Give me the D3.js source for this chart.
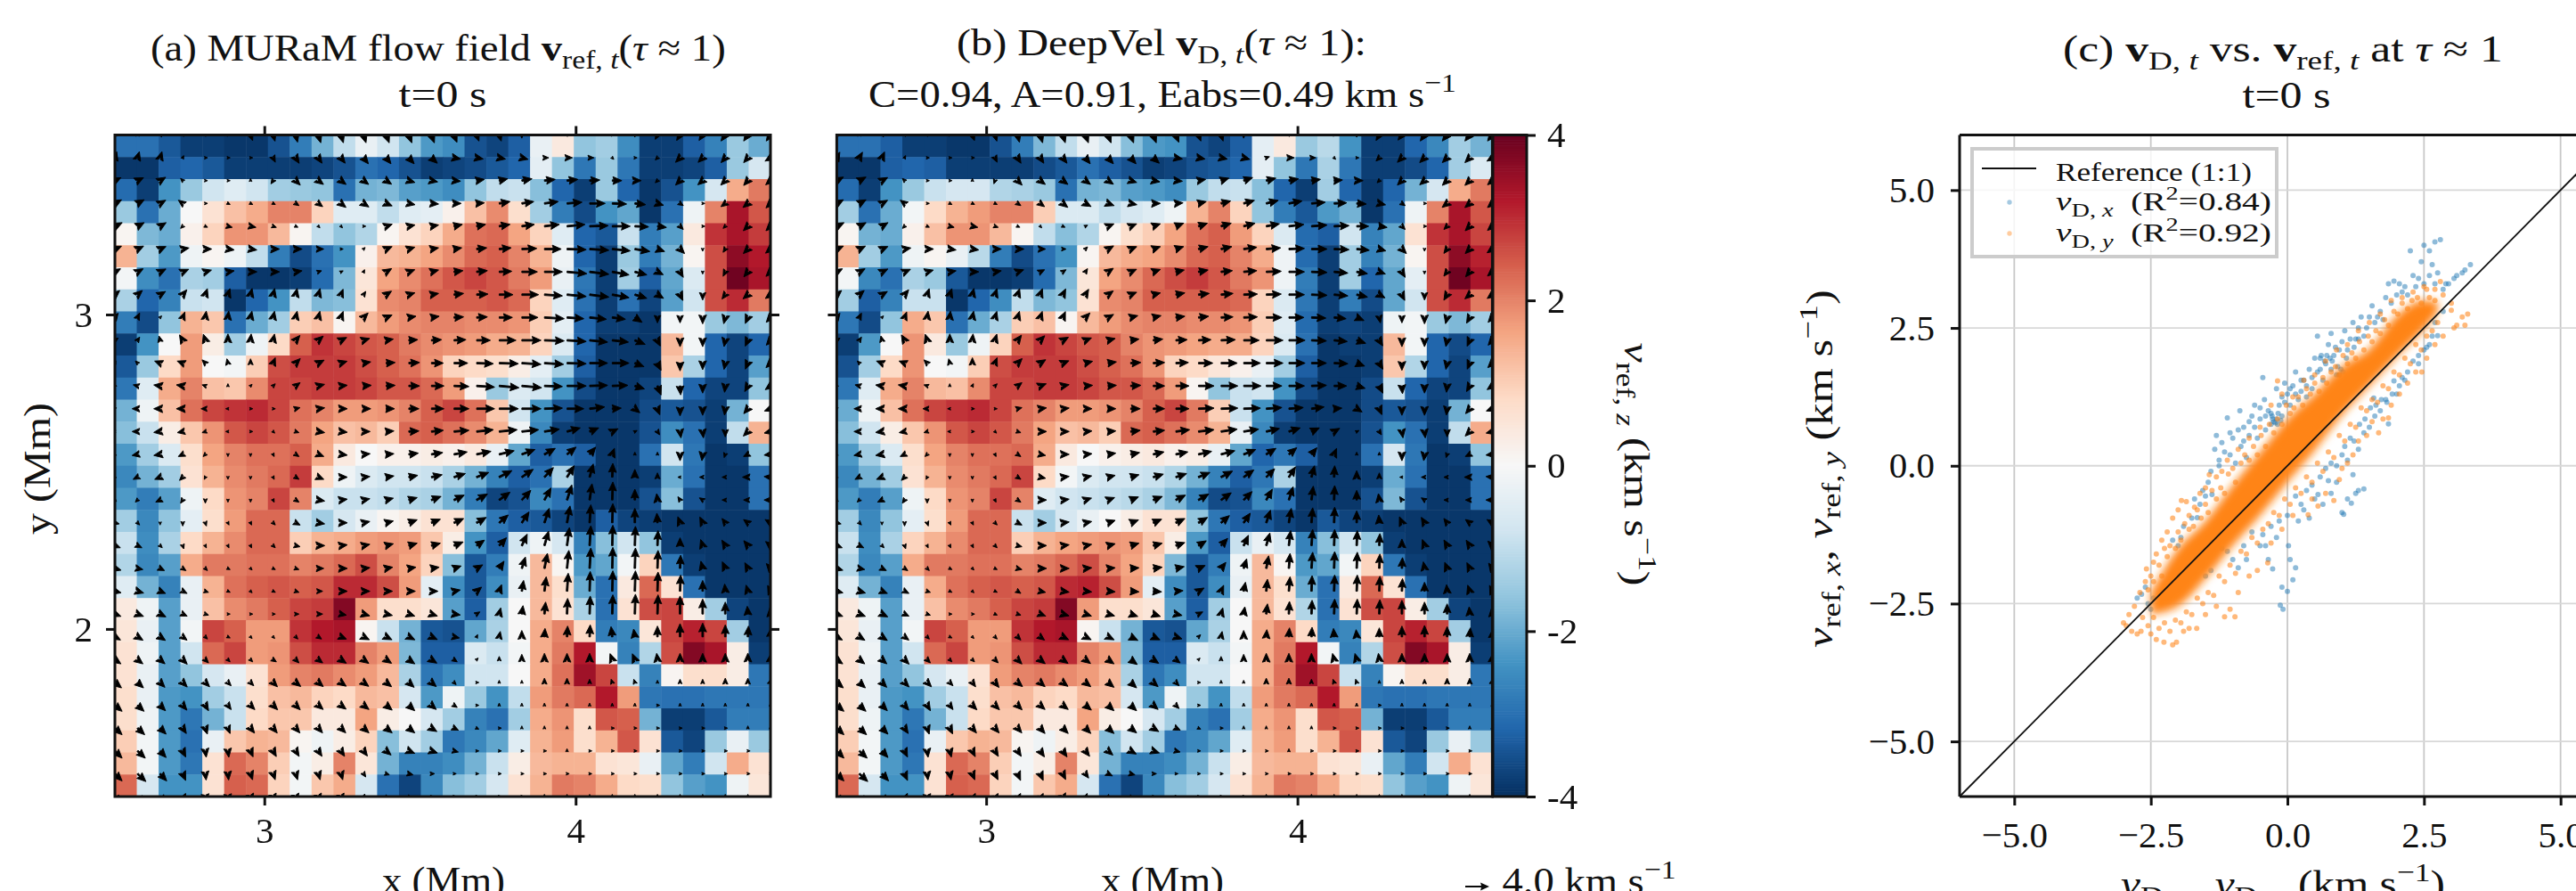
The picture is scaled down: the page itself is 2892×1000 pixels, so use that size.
<!DOCTYPE html>
<html>
<head>
<meta charset="utf-8">
<script src="https://cdn.jsdelivr.net/npm/d3@7"></script>
<style>
body { margin: 0; background: #fff; overflow: hidden; }
text { font-family: "Liberation Serif", serif; fill: #111; white-space: pre; }
</style>
</head>
<body>
<svg id="chart" width="2892" height="1000">
  <defs>
    <filter id="soft" x="-10%" y="-10%" width="120%" height="120%"><feGaussianBlur stdDeviation="0.6"></feGaussianBlur></filter>
    <filter id="softCore" x="-10%" y="-10%" width="120%" height="120%"><feGaussianBlur stdDeviation="5"></feGaussianBlur></filter>
  </defs>
</svg>
<script>
// vertical velocity, km/s, rows top to bottom
var vzRef = [
[-3,-3,-3.4,-3.8,-3.8,-3.9,-3.9,-3.5,-2.8,-1.9,-1,-.3,-.8,-1.6,-2.3,-2.5,-3.5,-3.7,-3.3,-.3,.4,-1.6,-1.4,-2.5,-3.8,-3.8,-3.3,-2.7,-1.5,-2],
[-3.9,-3.9,-3.3,-3.2,-3.4,-3.8,-3.8,-3.8,-3.8,-3.7,-3.5,-3,-3.2,-3.5,-3.8,-3.7,-3.6,-3.4,-3.2,-.4,-1.6,-2.9,-1.5,-2.9,-3.8,-3.8,-3.7,-3.3,-1.5,-.7],
[-3.1,-3.8,-2.4,-1.5,-.8,-.5,-.8,-1.4,-1.5,-1.6,-3,-1.9,-1.8,-2.2,-2.3,-2.5,-1.6,-1,-.9,-1.7,-3.2,-3.8,-1.5,-3.2,-3.9,-3.5,-2.4,-.7,1.5,2.1],
[-1.5,-3,-2,0,.6,1.2,1.5,2,2,.9,-.5,-.5,-1,-.5,-.4,.2,1.2,1.9,.7,-1.4,-2.8,-3.6,-2.4,-2.1,-3.9,-3,-.2,2,3.3,2.5],
[.1,-1.8,-2,.2,.9,1.8,1.8,1.3,.1,-1,-1.6,-1.2,.1,.6,.9,1.5,2.2,2.3,1.6,.9,-.5,-3.2,-3.4,-.9,-2.8,-2.2,.4,2.9,3.3,2.8],
[1.4,-1.4,-2.3,-.2,.1,-.2,-1,-2.8,-3.6,-3,-2.4,.2,1.3,1.4,1.6,1.9,2.3,2.4,2,1.4,-.2,-3.2,-3.8,-1.5,-2.8,-1.9,.1,2.6,3.6,3.2],
[-.1,-2.5,-3,-1.3,-1.4,-3.3,-3.9,-3.9,-3.8,-3.1,-1.8,.5,1.6,1.9,2.2,2.5,2.7,2.5,2.1,1.7,-.3,-2.9,-3.8,-1.4,-3.3,-2.1,-.6,2.6,3.9,3.3],
[-1.3,-3.2,-2.7,-.9,-.8,-3.9,-3.2,-2.4,-1,-1.8,-1.7,.6,1.9,2,2.4,2.4,2.4,2.5,2.3,.9,-.5,-3,-3.8,-3,-3.7,-2.2,-.8,2.6,3,2.1],
[-2.8,-3.6,-1.6,1.4,1.1,-3,-2,-1.4,1,1.2,.1,1.3,1.7,1.9,2,2,1.9,1.9,1.8,1,-.4,-3.2,-3.8,-3.8,-3.9,-.1,-.1,-1.5,-1.8,-1.4],
[-3.8,-2.4,0,1.7,.3,-1.4,-.2,.8,2.4,2.9,2.7,2.5,2.4,2.1,1.9,1.8,1.7,1.5,1.4,.9,-.6,-3.2,-3.9,-3.9,-3.9,1.3,-.1,-3.2,-3.7,-3.2],
[-3.4,-1.5,.8,1.7,0,-.1,1,2.6,2.8,2.8,2.8,2.6,2.4,2.2,1.8,.9,.8,.7,.3,-.4,-1.4,-3.3,-3.9,-3.9,-3.9,1.1,-1.3,-3.2,-3.7,-2.2],
[-2.9,-.5,1.5,2,1.2,1.1,1.9,2.7,2.7,2.8,2.8,2.7,2.5,2.5,2.3,1.7,.2,-1.5,-.6,-.8,-2.4,-3.6,-3.9,-3.9,-3.7,-.9,-3.2,-3.7,-3.7,-1.6],
[-1.9,-.2,1.2,2.2,2.7,2.9,3,2.7,2.2,2,1.7,1.7,1.8,2,2.4,2.7,2.2,1.1,-.8,-2.4,-3.5,-3.9,-3.9,-3.9,-3.6,-3.4,-3.5,-3.8,-1.9,0],
[-1.7,-.9,.3,1.1,1.8,2.5,2.7,2.5,2.1,1.6,1.2,1.3,1,2.3,2.4,2.2,1.9,1.4,-.2,-2.6,-3.8,-3.9,-3.9,-3.9,-3.5,-2.5,-3,-3.8,-1,1.4],
[-2.3,-1.4,-.6,.7,1.6,2,2.2,2.2,2.4,1.5,.4,0,.2,.2,.3,.2,.4,-.3,-2.1,-3.3,-3,-3.3,-3.9,-3.9,-3,-.8,-2.9,-3.9,-3.8,-1.6],
[-2.6,-1.9,-1.4,.6,1.4,1.9,2.1,2.3,2.8,.8,-.2,-.6,-.8,-.8,-.9,-1.3,-1.9,-2.7,-3.3,-3,-1.3,-3.9,-3.9,-3.9,-3.8,-2,-3,-3.9,-3.9,-3],
[-2.3,-2.8,-2.2,-.2,.8,1.8,2,2.7,2,-.6,-.9,-.9,-1,-1.2,-1.3,-1.9,-2.8,-3.7,-3.5,-2.6,-3,-3.9,-3.9,-3.9,-3.5,-1.7,-3.5,-3.9,-3.9,-3],
[-1.4,-2.6,-1.6,-.4,.7,1.7,2.3,2.3,-.9,-1.4,-.7,-.3,.1,.3,.6,.6,-1.7,-2.9,-3.3,-3.4,-3.7,-3.9,-3.3,-3.7,-3.8,-3.9,-3.9,-3.9,-3.9,-3.9],
[-.9,-2.5,-1.3,.8,1.4,1.9,2.3,2.3,1,1.4,1.5,1.7,1.8,1.7,1.1,.3,-2.4,-3.3,-.8,-.2,-.7,-2.7,-1.7,-.8,-1.6,-3.8,-3.9,-3.9,-3.9,-3.9],
[-1.2,-2.6,-2.2,1.5,2.1,2.1,2.2,2.2,2,2.1,2.3,2.6,2,1.6,.9,-1.7,-3.4,-2.8,-.2,1.3,.1,-2.3,-2.1,-.1,.9,-2.9,-3.8,-3.9,-3.9,-3.9],
[-.5,-1.9,-2.7,-.3,1.4,2.2,2.4,2.5,2.4,2.5,3,3,2.6,1.7,-.4,-2.5,-3.4,-2.5,-.3,1.3,.7,-2,-3,.4,2.3,.6,-3,-3.9,-3.9,-3.9],
[.4,-.2,-2.2,-.3,1.2,1.9,2.1,2.4,2.7,2.8,3.7,1.7,.7,.7,.5,-2.2,-3.3,-1.4,0,1.3,.6,-1.3,-3,.6,2.6,2.7,.3,-1.4,-3.7,-3.9],
[.5,-.3,-2.2,-.1,2.7,2.4,1.7,1.7,2.9,3.2,3.3,.1,-.9,-1.9,-3.4,-3.5,-2.1,-1.3,0,1.5,2,.8,-2.8,-2.6,.5,2.7,3.1,2.7,-1.4,-3.9],
[.6,-.2,-2.2,-.8,2.3,2.7,1.7,1.8,2.6,3,3,2,1.7,-1.8,-3.3,-3.3,-.6,-.9,-.1,1.5,2.1,3.2,-.1,-2.7,-1.2,2.6,3.7,3.3,.3,-3.8],
[.6,-.3,-2.2,-1.6,-.7,-.3,.6,1.7,2,2.1,1.9,1.7,1.3,-1.3,-2.9,-2.5,-.8,-.8,0,1.5,2.2,3.4,2.7,-.9,-2.7,.1,.7,.7,.3,-2.9],
[.7,-.3,-2.3,-2.4,-1.4,-.9,.7,1.2,1.3,.9,.8,1.3,1.2,-.7,-2.3,-.2,-1.5,-2.4,-1,1.7,2.1,2.3,3.2,1.7,-2.9,-3,-3,-2.9,-2.9,-2.9],
[.7,-.2,-2.3,-2.9,-1.9,-.9,.8,1.1,1.1,.4,.4,1.6,.3,0,-.7,-1.4,-2.7,-3,-1.4,1.5,1.8,.7,2.5,2.4,-1.9,-3.8,-3.8,-3.4,-2.8,-2.8],
[1,-.1,-2.3,-3,-.3,1.1,1.4,1.3,.1,-.2,.3,.9,-1.7,-.8,-1.4,-2.9,-2.6,-2.1,-.5,1.4,1.7,.7,1.4,2.5,.6,-3.4,-3.7,-1.5,-.3,-1.5],
[1.3,-.1,-2.3,-2.9,.6,2.3,2,1,-.1,.3,2,.5,-1.9,-2.7,-2.7,-2.5,-1.9,-.9,.3,1.3,1.4,1.4,.6,.5,-.3,-2.1,-2.8,-.8,1.5,.6],
[2.3,-.7,-2.4,-2.4,.6,2.4,2.3,.9,-.1,1.1,1.5,-.7,-3,-3.7,-2.6,-1.7,-1.4,-.7,.6,1.4,2.1,2,1.5,.8,.7,-1.6,-2.2,-2.4,-.2,.5]
];
var vzDeep = [
[-3,-3,-3.3,-3.8,-3.8,-3.9,-3.9,-3.5,-2.8,-1.8,-1,-.3,-.8,-1.7,-2.3,-2.4,-3.5,-3.7,-3.3,-.4,.4,-1.5,-1.1,-2.4,-3.8,-3.8,-3.2,-2.6,-1.4,-1.9],
[-3.9,-3.9,-3.3,-3.2,-3.3,-3.8,-3.8,-3.8,-3.8,-3.6,-3.4,-3,-3.3,-3.5,-3.8,-3.7,-3.5,-3.4,-3.2,-.4,-1.6,-2.9,-1.3,-2.9,-3.8,-3.8,-3.6,-3.2,-1.4,-.6],
[-3.1,-3.8,-2.4,-1.5,-.9,-.7,-.7,-1.2,-1.3,-1.5,-3,-1.9,-1.8,-2.2,-2.3,-2.5,-1.5,-1,-.9,-1.7,-3.2,-3.8,-1.4,-3.2,-3.9,-3.2,-1.9,-.7,1.5,2.1],
[-1.4,-3,-2,-.1,.8,1.4,1.7,2,2,1,-.6,-.6,-1,-.7,-.5,-.2,1.4,2,.9,-1.6,-2.8,-3.4,-2.3,-1.9,-3.9,-3,-.2,2,3.3,2.5],
[.1,-1.9,-2,.2,1.2,1.8,1.8,1.3,.1,-1,-1.7,-1.2,.1,.7,1,1.6,2.2,2.4,1.7,.9,-.6,-3.1,-3.3,-.8,-2.7,-2.1,.6,2.9,3.3,2.7],
[1.4,-1.4,-2.3,-.2,.1,-.3,-1.1,-2.8,-3.6,-3,-2.4,.1,1.3,1.5,1.6,1.9,2.3,2.4,2,1.5,-.2,-3.1,-3.8,-1.4,-2.7,-1.9,.1,2.6,3.6,3.1],
[-.1,-2.6,-3,-1.3,-1.5,-3.4,-3.9,-3.9,-3.8,-3.1,-1.8,.5,1.6,1.9,2.3,2.6,2.8,2.5,2.1,1.8,-.2,-2.8,-3.8,-1.4,-3.2,-2.1,-.4,2.6,3.9,3.3],
[-1.4,-3.3,-2.7,-.9,-.9,-3.9,-3.2,-2.5,-1,-1.8,-1.6,.6,1.9,2,2.4,2.4,2.4,2.4,2.3,.9,-.6,-2.9,-3.8,-2.8,-3.6,-2.1,-.8,2.6,3,2.1],
[-2.9,-3.6,-1.6,1.5,1.1,-3,-2,-1.3,1,1.2,.1,1.3,1.7,1.9,2,2,1.9,1.9,1.8,1,-.5,-3.1,-3.8,-3.7,-3.8,-.2,-.1,-1.5,-1.8,-1.4],
[-3.8,-2.3,0,1.8,.4,-1.5,-.2,.9,2.4,2.9,2.7,2.5,2.4,2,1.8,1.7,1.6,1.5,1.5,.9,-.6,-3,-3.9,-3.8,-3.8,1.3,-.1,-3.2,-3.6,-3.2],
[-3.5,-1.4,.8,1.8,0,-.1,1,2.6,2.8,2.8,2.8,2.6,2.4,2.2,1.8,.9,.8,.5,.2,-.3,-1.4,-3.3,-3.9,-3.9,-3.8,1.1,-1.2,-3.2,-3.7,-2.2],
[-2.9,-.5,1.5,2,1.3,1.2,1.9,2.7,2.7,2.8,2.8,2.7,2.5,2.5,2.3,1.7,.1,-1.6,-.9,-.8,-2.4,-3.6,-3.9,-3.9,-3.6,-.9,-3.2,-3.7,-3.7,-1.6],
[-2,-.2,1.2,2.2,2.7,2.9,3,2.7,2.2,2,1.7,1.7,1.8,2,2.4,2.7,2.1,1,-.9,-2.4,-3.5,-3.9,-3.9,-3.9,-3.6,-3.4,-3.5,-3.8,-1.9,0],
[-1.7,-.8,.3,1.1,1.8,2.5,2.7,2.5,2.1,1.6,1.2,1.3,1,2.3,2.4,2.2,1.9,1.4,-.3,-2.6,-3.8,-3.9,-3.9,-3.9,-3.5,-2.4,-3,-3.8,-1,1.5],
[-2.3,-1.4,-.6,.7,1.6,2,2.2,2.2,2.3,1.5,.4,0,.2,.3,.4,.2,.3,-.3,-2.1,-3.2,-2.9,-3.3,-3.9,-3.9,-3,-.7,-2.9,-3.9,-3.8,-1.6],
[-2.6,-1.9,-1.4,.6,1.4,1.9,2.1,2.3,2.7,.8,-.1,-.6,-.8,-.8,-.9,-1.2,-1.9,-2.7,-3.3,-2.9,-1.3,-3.9,-3.9,-3.9,-3.8,-2,-3,-3.9,-3.9,-3],
[-2.3,-2.8,-2.2,-.2,.8,1.8,2,2.7,2,-.5,-.8,-.9,-1,-1.1,-1.3,-1.8,-2.7,-3.6,-3.5,-2.6,-3,-3.9,-3.9,-3.9,-3.5,-1.8,-3.5,-3.9,-3.9,-3],
[-1.4,-2.6,-1.6,-.4,.7,1.7,2.3,2.3,-.9,-1.4,-.7,-.3,0,.3,.6,.6,-1.6,-2.9,-3.3,-3.4,-3.7,-3.9,-3.4,-3.7,-3.8,-3.9,-3.9,-3.9,-3.9,-3.9],
[-.9,-2.5,-1.3,.9,1.4,1.9,2.3,2.3,1,1.4,1.6,1.7,1.8,1.7,1.1,.3,-2.3,-3.3,-.9,-.3,-.7,-2.7,-1.7,-.8,-1.6,-3.8,-3.9,-3.9,-3.9,-3.9],
[-1.2,-2.6,-2.2,1.5,2.1,2.1,2.2,2.2,2,2.1,2.3,2.6,2,1.6,.9,-1.8,-3.4,-2.8,-.2,1.3,.1,-2.3,-2.1,-.1,.9,-2.9,-3.8,-3.9,-3.9,-3.9],
[-.5,-1.9,-2.7,-.3,1.5,2.2,2.4,2.5,2.4,2.5,3,3.1,2.6,1.7,-.4,-2.5,-3.4,-2.5,-.3,1.3,.7,-2,-3,.4,2.3,.6,-3,-3.9,-3.9,-3.9],
[.4,-.2,-2.2,-.3,1.2,1.9,2.1,2.4,2.7,2.8,3.7,1.7,.7,.7,.5,-2.2,-3.3,-1.4,0,1.3,.6,-1.2,-3,.6,2.6,2.7,.3,-1.4,-3.7,-3.9],
[.5,-.3,-2.2,-.1,2.7,2.4,1.7,1.7,2.9,3.2,3.3,.1,-.9,-1.9,-3.4,-3.5,-2.1,-1.3,0,1.5,2,.8,-2.8,-2.6,.5,2.7,3.1,2.7,-1.4,-3.9],
[.6,-.2,-2.2,-.8,2.3,2.7,1.7,1.8,2.6,3,3,2,1.7,-1.8,-3.3,-3.3,-.6,-.9,-.1,1.5,2.1,3.2,-.1,-2.7,-1.2,2.6,3.7,3.3,.3,-3.8],
[.6,-.3,-2.2,-1.6,-.7,-.3,.6,1.7,2,2.1,1.9,1.7,1.3,-1.3,-2.9,-2.5,-.8,-.8,0,1.5,2.2,3.4,2.7,-.9,-2.7,.1,.7,.7,.3,-2.9],
[.7,-.3,-2.3,-2.4,-1.4,-.9,.7,1.2,1.3,.9,.8,1.3,1.2,-.7,-2.3,-.2,-1.5,-2.4,-1,1.7,2.1,2.3,3.2,1.7,-2.9,-3,-3,-2.9,-2.9,-2.9],
[.7,-.2,-2.3,-2.9,-1.9,-.9,.8,1.1,1.1,.4,.4,1.6,.3,0,-.7,-1.4,-2.7,-3,-1.4,1.5,1.8,.7,2.5,2.4,-1.9,-3.8,-3.8,-3.4,-2.8,-2.8],
[1,-.1,-2.3,-3,-.3,1.1,1.4,1.3,.1,-.2,.3,.9,-1.7,-.8,-1.4,-2.9,-2.6,-2.1,-.5,1.4,1.7,.7,1.4,2.5,.6,-3.4,-3.7,-1.5,-.3,-1.5],
[1.3,-.1,-2.3,-2.9,.6,2.3,2,1,-.1,.3,2,.5,-1.9,-2.7,-2.7,-2.5,-1.9,-.9,.3,1.3,1.4,1.4,.6,.5,-.3,-2.1,-2.8,-.8,1.5,.6],
[2.3,-.7,-2.4,-2.4,.6,2.4,2.3,.9,-.1,1.1,1.5,-.7,-3,-3.7,-2.6,-1.7,-1.4,-.7,.6,1.4,2.1,2,1.5,.8,.7,-1.6,-2.2,-2.4,-.2,.5]
];
// horizontal flow, km/s, rows top to bottom (arrow grid)
var uRef = [
[0,0,.1,.1,.1,.1,.2,.3,.3,.4,.4,.4,.5,.5,.5,.5,.4,.2,0,0,.1,0,0,0,-.2,-.5,-.6,-.7,-.7,-.7],
[.3,.3,.3,.1,0,0,0,.2,.5,.6,.7,.8,.8,.9,1,1.1,1.1,1,.8,.4,.5,.4,.1,.1,-.2,-.6,-.7,-.7,-.7,-.8],
[1,1,.8,-.2,0,0,0,-.2,.6,.8,.8,.8,.9,1,1,1.1,1.3,1.4,1.7,1.8,1.8,1.7,1.6,.8,-.2,-.6,-.7,-.7,-.7,-.8],
[1.1,1.1,.9,-.4,0,.2,.2,.2,.3,.4,.5,.6,.7,1,1.2,1.2,1.3,1.8,2,2.3,2.5,2.6,2.4,1.8,1,.3,0,-.4,-.6,-.6],
[1.2,1.1,1,-.2,.2,.4,.5,.3,.2,.1,.1,.1,.6,1,1.2,1.4,1.5,1.8,2.1,2.5,3,3.1,3,2.3,1.5,.3,0,-.2,-.5,-.6],
[1.1,1,.9,.6,.7,.7,.7,.6,.6,.5,.2,.1,.7,1,1.2,1.3,1.7,2,2.5,2.8,3.2,3.2,3,2.5,1.2,.5,0,-.2,-.5,-.6],
[.9,.9,.8,.7,.7,.6,.6,.6,.6,.3,.2,.1,.5,.8,1.2,1.5,1.8,2.1,2.6,3,3.3,3.2,2.8,2,.8,.3,0,-.2,-.4,-.6],
[.7,.7,.5,.5,.3,.2,.2,.2,.2,.2,.2,.2,.6,1,1.2,1.6,1.9,2.3,2.8,3,3.2,3.2,2.8,2,1,.3,0,-.3,-.7,-.8],
[.3,.2,.1,.2,.1,.1,.2,.2,.2,.2,.3,.5,.9,1.2,1.3,1.6,1.8,2.2,2.7,3.3,2.8,2.8,2.2,1.2,0,0,0,-.2,-.4,-.7],
[.3,.2,-.1,-.3,-.2,0,.1,.2,.6,.7,.8,1,1.2,1.5,1.7,2,2.3,2.8,3.2,3.3,3.2,3,2.7,1.7,.4,0,0,-.2,-.4,-.6],
[.1,-.2,-.5,-.5,-.3,-.1,0,.2,.5,.8,1,1.2,1.5,1.8,2,2.3,2.8,3.2,3.2,3.2,3.2,3,2.8,1.5,.6,0,0,-.2,-.3,-.5],
[-.1,-.4,-.7,-.6,-.3,0,.1,.2,.4,.8,1,1.3,1.5,1.8,2.1,2.5,3,3.3,3.3,3,3.2,3,2.6,1.6,.6,.1,0,-.1,-.4,-.7],
[-.2,-.5,-.8,-.7,-.4,-.1,.1,.2,.4,.7,.9,1.2,1.4,1.7,2.1,2.5,3,3.2,3.2,3,2.8,2.5,1.5,.5,.4,0,0,-.1,-.5,-.8],
[-.2,-.5,-.7,-.5,-.3,-.1,0,.1,.3,.6,.9,1.1,1.3,1.7,2,2.5,2.8,3,2.8,2.5,2.2,1.5,.8,.2,.2,.1,.1,0,-.5,-.8],
[-.2,-.5,-.6,-.4,-.2,0,0,.1,.3,.5,.8,1.1,1.3,1.6,1.9,2.2,2.4,2.5,2.2,1.8,1.5,1,.3,0,0,0,-.1,-.1,-.4,-.9],
[-.1,-.4,-.5,-.3,-.1,0,0,.1,.3,.5,.8,1,1.3,1.5,1.8,1.9,2,2.1,1.9,1.5,1.2,.6,.1,0,0,-.2,-.3,-.3,-.5,-1],
[.1,-.2,-.4,-.2,0,0,0,.1,.3,.6,.8,1,1.2,1.4,1.6,1.7,1.8,1.8,1.5,1.1,.8,.4,.1,0,-.1,-.2,-.3,-.3,-.4,-.7],
[.4,.2,0,0,.1,.1,.1,.2,.4,.6,.8,1,1.2,1.4,1.5,1.6,1.6,1.5,1.2,.8,.5,.2,.1,0,-.1,-.3,-.3,-.3,-.4,-.5],
[.5,.4,.2,.1,.1,.1,.1,.2,.4,.6,.8,1,1.2,1.4,1.5,1.5,1.3,1.2,.9,.7,.4,.2,.1,.1,.1,0,-.3,-.5,-.5,-.6],
[.7,.5,.4,.3,.2,.2,.1,.2,.3,.5,.7,.9,1.1,1.2,1.3,1.2,1,.8,.6,.5,.3,.2,.1,.1,.1,.1,-.3,-.5,-.5,-.6],
[.8,.7,.5,.4,.3,.2,.1,.2,.3,.4,.6,.8,1,1.1,1.1,1,.6,.4,.3,.3,.2,.1,.1,.1,.1,.1,0,-.1,-.3,-.4],
[.8,.8,.6,.4,.3,.2,.1,.2,.3,.4,.5,.7,.9,.9,.9,.7,.3,.2,.2,.2,.1,.1,.1,.1,.1,0,0,0,-.1,-.1],
[.9,.8,.6,.4,.2,.2,.1,.1,.2,.3,.5,.6,.8,1,.9,.5,.1,.1,0,.1,.1,.1,-.2,-.2,0,0,0,0,.1,.1],
[1,.9,.7,.5,.3,.2,.2,.3,.3,.4,.6,.7,.9,1,.8,.3,.1,0,0,0,0,0,-.3,-.3,-.1,0,0,0,0,.1],
[1.1,1,.8,.6,.4,.3,.3,.4,.5,.6,.7,.8,.9,.9,.6,.2,.1,0,0,0,0,0,-.1,-.1,0,0,0,0,0,.1],
[1.2,1.1,.9,.6,.3,.3,.4,.5,.6,.7,.8,.9,1,1,.7,.3,.1,0,0,0,0,0,0,0,0,0,0,0,0,0],
[1.2,1.2,1,.6,.2,.2,.4,.5,.6,.7,.8,.9,1,1,.8,.4,.2,.1,0,0,0,0,0,0,0,0,0,0,0,0],
[1.2,1.3,1,.5,.1,.1,.3,.4,.5,.6,.6,.6,.6,.7,.6,.4,.2,.1,0,0,0,0,0,0,0,0,0,0,0,0],
[1.2,1.4,1.1,.5,.1,.1,.3,.3,.3,.3,.2,.2,.3,.4,.3,.2,0,0,0,0,0,0,0,0,0,0,0,0,0,0],
[1.2,1.4,1.1,.5,.1,.1,.3,.3,.3,.3,.2,.2,.2,.2,.2,.1,0,0,0,0,0,0,0,0,0,0,0,0,0,0]
];
// vertical in-plane flow, km/s, positive up
var vRef = [
[.3,.3,.3,.2,.1,0,-.5,-1,-1.2,-1.3,-1.3,-1.3,-1.3,-1.3,-1.3,-1.2,-1,-.6,-.3,.1,.1,.1,0,-.1,-.4,-.8,-.9,-1,-1,-1],
[1,1,1,.2,0,0,0,-.4,-.8,-.9,-.9,-1,-1,-1,-.9,-.2,-.2,-.2,-.2,0,0,0,-.1,0,-.2,-.6,-.7,-.8,-.8,-.5],
[.5,.5,.5,.2,0,0,.1,-.3,-.6,-.6,-.6,-.6,-.6,-.3,-.2,-.1,.2,.3,.3,.2,.2,.1,0,0,-.2,-.6,-.6,-.7,-.8,-.7],
[.6,.6,.5,.3,0,-.1,-.1,-.1,-.2,-.3,-.4,-.4,-.3,-.2,-.1,0,.1,.3,.3,.3,.2,0,-.1,-.2,-.3,-.2,0,-.3,-.5,-.6],
[.6,.6,.6,-.2,-.1,-.1,-.1,-.1,-.1,-.1,-.1,0,.2,.2,.2,.3,.3,.3,.3,.3,.3,.1,0,-.1,-.2,-.3,0,-.2,-.5,-.6],
[.5,.5,.4,.1,0,-.1,-.1,0,0,0,0,.1,.3,.3,.2,.2,.2,.2,.1,0,-.1,-.2,-.3,-.4,-.4,-.5,-.2,-.3,-.5,-.5],
[.5,.5,.4,.3,.2,.1,0,0,.1,.1,.1,.2,.3,.3,.3,.2,.2,.1,0,0,-.3,-.4,-.5,-.5,-.4,-.5,-.2,-.4,-.5,-.6],
[.6,.6,.3,.6,.9,.6,.8,.8,.9,.7,.5,.3,.4,.3,.2,.2,.1,0,0,-.2,-.3,-.4,-.5,-.6,-.6,-.6,-.5,-.4,-.6,-.6],
[.4,.4,.1,.5,.7,.8,.9,.9,.9,.8,.8,.5,.4,.2,.2,.1,.1,0,0,-.2,-.2,-.3,-.3,-.8,-.5,-.5,-.7,-.8,-.9,-.8],
[.2,.3,.4,.5,.6,.8,1,.9,.7,.6,.4,.3,.2,.1,.1,.1,0,0,0,-.1,-.2,-.3,-.3,-.7,-.8,-.8,-.9,-1,-.9,-.7],
[.2,.2,.2,.2,.3,.4,.4,.5,.5,.4,.3,.2,.1,.1,0,0,-.1,-.1,-.2,-.2,-.1,0,0,-.6,-1.2,-1.3,-1.1,-1,-.7,-.5],
[.2,.1,.1,.1,.1,.1,.1,.2,.3,.2,.1,.1,.1,0,0,-.1,-.2,-.3,-.3,-.1,0,.1,.1,-.5,-1.5,-1.5,-1.2,-.9,-.7,-.5],
[.1,0,0,0,0,0,0,0,.1,.1,0,0,0,0,0,0,0,0,0,.1,0,.3,.1,-.4,-1,-1.2,-1.1,-.8,-.6,-.3],
[0,0,-.1,-.1,-.1,0,0,-.1,-.1,-.1,-.1,0,.1,.1,.2,.2,.3,.3,.3,.4,.6,.6,.4,.1,-.3,-.7,-.8,-.5,-.5,-.2],
[-.1,-.1,-.1,-.2,-.2,-.1,-.1,-.2,-.2,-.2,-.1,.1,.1,.2,.3,.4,.5,.6,.8,1,1.2,1.2,.8,.2,.1,-.7,-.8,-.3,-.2,-.1],
[-.1,-.2,-.2,-.3,-.2,-.2,-.2,-.2,-.2,-.2,0,.1,.2,.3,.4,.6,.8,1.1,1.3,1.6,1.9,2.2,2.3,1.3,.4,0,0,0,0,.1],
[-.1,-.2,-.2,-.3,-.3,-.2,-.2,-.2,-.2,-.1,.1,.2,.3,.4,.6,.8,1,1.3,1.6,2,2.5,2.7,3,1.8,.8,.3,.2,0,0,0],
[-.1,-.2,-.2,-.3,-.3,-.2,-.2,-.2,-.2,-.1,0,.2,.3,.5,.6,.7,.9,1.3,1.8,2.4,2.8,3,3.2,2.4,1.6,.8,.6,.4,.3,.3],
[-.2,-.2,-.2,-.3,-.2,-.2,-.2,-.2,-.1,0,.1,.2,.3,.4,.4,.6,.9,1.3,1.9,2.4,3,3.3,3.4,3.2,2.5,1.3,.9,.8,.6,.5],
[-.2,-.1,-.2,-.2,-.2,-.1,-.1,-.1,-.1,0,0,.1,.2,.2,.2,.4,.6,1.2,1.9,2.5,3,3.4,3.5,3.4,3,2.2,1.2,1.1,.9,.7],
[-.2,-.2,-.2,-.2,-.1,-.1,-.1,-.1,-.1,0,0,0,0,0,0,.2,.5,1.1,1.8,2.4,3,3.3,3.4,3.4,3.2,2.7,1.8,1.2,1,.8],
[-.3,-.3,-.3,-.2,-.1,0,0,0,0,0,-.1,-.2,-.2,-.3,-.3,-.1,.2,.8,1.4,2,2.6,3,3.2,3.3,3.2,3,2.5,2,1.3,1],
[-.5,-.5,-.4,-.3,-.2,-.1,-.1,-.1,-.2,-.2,-.2,-.3,-.4,-.5,-.4,-.1,.2,.5,.9,1.4,1.8,2,1.7,1.3,1.8,2.2,2.3,2,1.8,1.5],
[-.7,-.7,-.6,-.5,-.3,-.2,-.2,-.2,-.3,-.3,-.4,-.5,-.6,-.7,-.5,-.2,.1,.3,.5,.8,1,1,.8,.7,.8,.8,1,1,1.1,1],
[-.9,-.9,-.8,-.6,-.4,-.3,-.3,-.4,-.4,-.5,-.5,-.6,-.7,-.8,-.5,-.2,0,.2,.2,.4,.4,.3,.3,.3,.2,.3,.3,.4,.4,.4],
[-1,-1,-.9,-.7,-.5,-.4,-.4,-.5,-.6,-.6,-.6,-.7,-.8,-.9,-.6,-.2,0,.1,.1,.2,.2,.1,.1,.1,0,.1,.1,.1,.2,.2],
[-1.1,-1.1,-1,-.9,-.6,-.5,-.5,-.6,-.7,-.8,-.8,-.8,-.8,-.8,-.5,-.2,-.1,0,.1,.1,.1,.1,0,0,0,0,0,0,.1,.1],
[-1.2,-1.2,-1.1,-1,-.7,-.7,-.7,-.7,-.8,-.9,-.9,-.8,-.5,-.3,-.2,-.1,0,0,0,0,.1,0,0,0,0,0,0,0,0,0],
[-1.2,-1.3,-1.2,-1.1,-.8,-.9,-.9,-.9,-1,-1,-.7,-.3,-.1,-.1,0,0,0,0,0,0,0,0,0,0,0,0,0,0,0,0],
[-1.2,-1.3,-1.2,-1.1,-.9,-1,-1,-1,-1,-1,-.7,-.3,-.1,-.1,0,0,0,0,0,.1,.1,.1,.1,.1,.1,.1,.1,.1,.1,.1]
];
var uDeep = [
[0,0,.1,.1,.1,.1,.2,.3,.3,.4,.4,.5,.5,.5,.5,.5,.4,.2,0,0,.1,0,0,0,-.3,-.6,-.7,-.8,-.8,-.8],
[.5,.5,.4,.1,0,0,0,.2,.5,.6,.7,.8,.9,.9,1,1.1,1.1,1,.8,.3,.5,.4,.1,.1,-.3,-.6,-.8,-.8,-.8,-.8],
[1.1,1.1,.9,-.2,0,0,0,-.1,.6,.8,.8,.8,.9,1,1.1,1.1,1.2,1.3,1.5,1.6,1.6,1.5,1.4,.8,-.2,-.6,-.8,-.8,-.8,-.8],
[1.1,1.1,.9,-.4,0,.2,.2,.2,.3,.4,.5,.7,.8,1,1.2,1.2,1.3,1.6,1.8,2,2.2,2.3,2.1,1.6,.9,.3,0,-.5,-.7,-.7],
[1.2,1.1,1,-.2,.2,.4,.5,.3,.2,.1,.2,.2,.7,1,1.2,1.3,1.5,1.7,1.9,2.2,2.5,2.6,2.5,2,1.3,.3,0,-.3,-.6,-.7],
[1.1,1,.9,.6,.7,.7,.7,.6,.6,.5,.3,.2,.7,1,1.2,1.3,1.6,1.8,2.2,2.4,2.6,2.6,2.5,2.1,1.1,.5,0,-.3,-.6,-.7],
[.9,.9,.8,.7,.7,.6,.6,.6,.6,.4,.3,.2,.6,.9,1.2,1.4,1.6,1.9,2.2,2.5,2.6,2.6,2.3,1.8,.8,.3,0,-.3,-.5,-.7],
[.7,.7,.5,.5,.3,.2,.2,.3,.3,.3,.3,.3,.7,1,1.2,1.5,1.8,2,2.3,2.5,2.6,2.6,2.3,1.8,.9,.3,0,-.3,-.7,-.8],
[.3,.2,.1,.2,.1,.1,.2,.3,.3,.3,.4,.6,.9,1.2,1.3,1.5,1.7,2,2.3,2.6,2.5,2.4,2,1.2,.1,0,0,-.2,-.5,-.7],
[.3,.2,-.1,-.3,-.2,0,.1,.3,.6,.7,.9,1,1.2,1.4,1.6,1.9,2.1,2.4,2.6,2.8,2.7,2.5,2.2,1.5,.5,0,0,-.2,-.4,-.6],
[.1,-.2,-.5,-.5,-.3,-.1,0,.2,.5,.8,1,1.2,1.4,1.7,1.9,2.1,2.4,2.7,2.8,2.8,2.7,2.5,2.3,1.3,.6,0,0,-.2,-.3,-.5],
[-.1,-.4,-.7,-.6,-.3,0,.1,.2,.4,.8,1,1.2,1.4,1.7,1.9,2.2,2.6,2.8,2.9,2.6,2.6,2.5,2.1,1.4,.6,.1,0,-.1,-.4,-.7],
[-.2,-.5,-.8,-.7,-.4,-.1,.1,.2,.4,.7,.9,1.1,1.3,1.6,1.9,2.2,2.6,2.8,2.8,2.6,2.4,2.1,1.3,.5,.4,0,0,-.1,-.5,-.8],
[-.2,-.5,-.7,-.5,-.3,-.1,0,.1,.3,.6,.9,1.1,1.3,1.6,1.9,2.3,2.6,2.7,2.5,2.2,1.9,1.3,.7,.2,.2,.1,.1,0,-.5,-.8],
[-.2,-.5,-.6,-.4,-.2,0,0,.1,.3,.5,.8,1.1,1.3,1.5,1.8,2,2.2,2.3,2,1.6,1.3,.9,.3,0,0,0,-.1,-.1,-.4,-.9],
[-.1,-.4,-.5,-.3,-.1,0,0,.1,.3,.5,.8,1,1.2,1.4,1.7,1.8,1.9,1.9,1.7,1.4,1.1,.5,.1,0,0,-.2,-.3,-.3,-.5,-1],
[.1,-.2,-.4,-.2,0,0,0,.1,.3,.6,.8,1,1.1,1.3,1.5,1.6,1.7,1.7,1.4,1,.7,.3,.1,0,-.1,-.2,-.3,-.3,-.4,-.7],
[.4,.2,0,0,.1,.1,.1,.2,.4,.6,.8,1,1.2,1.3,1.4,1.5,1.5,1.4,1.1,.7,.4,.2,.1,0,-.1,-.3,-.3,-.3,-.4,-.5],
[.5,.4,.2,.1,.1,.1,.1,.2,.4,.6,.8,1,1.2,1.4,1.5,1.5,1.3,1.1,.8,.6,.3,.2,.1,.1,.1,0,-.3,-.4,-.4,-.5],
[.7,.5,.4,.3,.2,.2,.1,.2,.4,.6,.8,1,1.2,1.4,1.5,1.4,1.1,.8,.5,.4,.2,.2,.1,.1,.1,.1,-.2,-.4,-.4,-.5],
[.8,.7,.5,.4,.3,.2,.1,.2,.3,.5,.7,.9,1.2,1.4,1.4,1.2,.7,.4,.3,.2,.2,.1,.1,.1,.1,.1,0,-.1,-.3,-.4],
[.8,.8,.6,.4,.3,.2,.1,.2,.3,.5,.7,.9,1.1,1.2,1.2,.9,.4,.2,.2,.2,.1,.1,.1,.1,.1,0,0,0,-.1,-.1],
[.9,.8,.6,.4,.2,.2,.1,.2,.3,.4,.6,.8,1,1.2,1.1,.6,.2,.1,0,.1,.1,.1,-.1,-.1,0,0,0,0,.1,.1],
[1,.9,.7,.5,.3,.2,.2,.3,.4,.5,.7,.8,1,1.1,.9,.4,.1,0,0,0,0,0,-.2,-.2,-.1,0,0,0,0,.1],
[1.1,1,.8,.6,.4,.3,.3,.4,.6,.7,.8,.9,1,1,.7,.3,.1,0,0,0,0,0,-.1,-.1,0,0,0,0,0,.1],
[1.2,1.1,.9,.6,.3,.3,.5,.6,.7,.8,.9,1,1,1,.7,.3,.1,0,0,0,0,0,0,0,0,0,0,0,0,0],
[1.2,1.2,1,.6,.2,.3,.5,.6,.7,.8,.9,.9,1,1,.8,.4,.2,.1,0,0,0,0,0,0,0,0,0,0,0,0],
[1.2,1.3,1,.5,.1,.2,.4,.5,.6,.7,.7,.7,.7,.7,.6,.4,.2,.1,0,0,0,0,0,0,0,0,0,0,0,0],
[1.2,1.4,1.1,.5,.1,.2,.4,.5,.5,.5,.4,.3,.4,.4,.3,.2,0,0,0,0,0,0,0,0,0,0,0,0,0,0],
[1.2,1.4,1.1,.5,.1,.2,.4,.4,.4,.4,.3,.2,.2,.2,.2,.1,0,0,0,0,0,0,0,0,0,0,0,0,0,0]
];
var vDeep = [
[.3,.3,.3,.2,.1,0,-.5,-1,-1.2,-1.3,-1.3,-1.3,-1.3,-1.3,-1.3,-1.2,-1,-.6,-.3,.1,.1,.1,0,-.1,-.5,-.8,-1,-1,-1,-1],
[.9,.9,.9,.2,0,0,0,-.4,-.8,-.9,-.9,-1,-1,-1,-.9,-.2,-.2,-.2,-.2,.1,0,0,-.1,0,-.3,-.6,-.8,-.8,-.8,-.5],
[.6,.6,.5,.2,0,0,.1,-.3,-.6,-.6,-.6,-.6,-.6,-.3,-.2,-.1,.2,.4,.5,.4,.3,.2,.1,0,-.2,-.6,-.7,-.8,-.8,-.7],
[.6,.6,.5,.3,0,-.1,-.1,-.1,-.2,-.3,-.4,-.4,-.3,-.2,0,.1,.3,.4,.5,.5,.4,.2,.1,-.1,-.2,-.2,0,-.4,-.6,-.6],
[.6,.6,.6,-.2,-.1,-.1,-.1,-.1,-.1,-.1,-.1,.1,.3,.4,.4,.5,.5,.5,.5,.4,.3,.2,.1,0,-.2,-.3,0,-.3,-.6,-.6],
[.5,.5,.4,.1,0,-.1,-.1,0,0,0,0,.2,.4,.4,.4,.4,.4,.4,.3,.2,.1,0,-.1,-.2,-.3,-.5,-.2,-.4,-.6,-.5],
[.5,.5,.4,.3,.2,.1,0,.1,.2,.2,.2,.3,.4,.4,.4,.3,.3,.2,.2,.1,0,-.1,-.2,-.3,-.3,-.5,-.2,-.4,-.6,-.6],
[.6,.6,.3,.6,.9,.6,.8,.9,.9,.8,.6,.5,.5,.4,.3,.3,.2,.2,.1,.1,0,-.1,-.2,-.4,-.5,-.6,-.5,-.5,-.6,-.6],
[.4,.4,.1,.5,.7,.9,1,1,1,.9,.9,.6,.5,.3,.3,.2,.2,.1,.1,0,0,-.1,-.2,-.5,-.5,-.5,-.7,-.8,-.9,-.8],
[.2,.3,.4,.5,.6,.8,1,1,.8,.7,.5,.4,.3,.2,.2,.1,.1,.1,0,0,0,-.1,-.2,-.5,-.8,-.8,-.9,-1,-.9,-.7],
[.2,.2,.2,.2,.3,.4,.5,.5,.5,.5,.4,.3,.2,.1,.1,.1,0,0,0,0,0,0,-.1,-.5,-1,-1.2,-1.1,-1,-.7,-.5],
[.2,.1,.1,.1,.1,.1,.2,.2,.3,.3,.2,.1,.1,.1,0,0,0,0,0,0,0,.1,0,-.4,-1.2,-1.3,-1.2,-.9,-.7,-.5],
[.1,0,0,0,0,0,0,0,.1,.1,.1,0,0,0,0,0,.1,.1,.1,.2,.2,.3,.1,-.3,-.9,-1.1,-1.1,-.8,-.6,-.3],
[0,0,-.1,-.1,-.1,0,0,-.1,-.1,0,0,.1,.1,.2,.2,.3,.3,.4,.4,.5,.6,.6,.4,.1,-.3,-.6,-.8,-.5,-.5,-.2],
[-.1,-.1,-.1,-.2,-.2,-.1,-.1,-.2,-.2,-.1,0,.1,.2,.3,.4,.4,.5,.6,.8,1,1.1,1.1,.7,.2,.1,-.6,-.8,-.3,-.2,-.1],
[-.1,-.2,-.2,-.3,-.2,-.2,-.2,-.2,-.2,-.1,.1,.2,.3,.4,.5,.6,.8,1,1.2,1.4,1.7,1.9,1.9,1.1,.4,0,0,0,0,.1],
[-.1,-.2,-.2,-.3,-.3,-.2,-.2,-.2,-.2,0,.1,.3,.4,.5,.6,.8,1,1.2,1.4,1.8,2.2,2.3,2.4,1.6,.7,.3,.2,0,0,0],
[-.1,-.2,-.2,-.3,-.3,-.2,-.2,-.2,-.2,0,.1,.2,.4,.5,.6,.7,.9,1.2,1.6,2.1,2.4,2.5,2.6,2,1.3,.7,.5,.4,.3,.3],
[-.2,-.2,-.2,-.3,-.2,-.2,-.2,-.2,-.1,0,.1,.2,.3,.4,.4,.5,.8,1.2,1.7,2.1,2.5,2.7,2.7,2.5,2,1.1,.8,.7,.6,.5],
[-.2,-.1,-.2,-.2,-.2,-.1,-.1,-.1,-.1,0,0,.1,.1,.1,.2,.3,.5,1,1.6,2.1,2.5,2.7,2.8,2.7,2.4,1.8,1.1,1,.8,.7],
[-.2,-.2,-.2,-.2,-.1,-.1,-.1,-.1,-.2,-.1,-.1,-.1,-.1,-.1,-.1,.1,.4,.9,1.5,2,2.4,2.6,2.7,2.7,2.5,2.1,1.5,1.1,.9,.8],
[-.3,-.3,-.3,-.2,-.1,0,0,-.1,-.1,-.2,-.2,-.3,-.3,-.4,-.4,-.2,.2,.7,1.2,1.7,2.1,2.3,2.5,2.5,2.4,2.3,2,1.7,1.2,1],
[-.5,-.5,-.4,-.3,-.2,-.1,-.1,-.2,-.3,-.3,-.3,-.4,-.5,-.6,-.5,-.2,.2,.5,.8,1.2,1.5,1.6,1.4,1.2,1.5,1.8,1.9,1.7,1.5,1.3],
[-.7,-.7,-.6,-.5,-.3,-.2,-.2,-.3,-.4,-.4,-.5,-.6,-.7,-.8,-.6,-.3,.1,.3,.5,.7,.9,.9,.8,.7,.7,.8,.9,.9,1,.9],
[-.9,-.9,-.8,-.6,-.4,-.3,-.4,-.5,-.5,-.6,-.6,-.7,-.8,-.9,-.6,-.3,0,.2,.2,.4,.4,.3,.3,.3,.2,.3,.3,.4,.4,.4],
[-1,-1,-.9,-.7,-.5,-.4,-.5,-.6,-.7,-.7,-.7,-.8,-.9,-.9,-.6,-.3,0,.1,.1,.2,.2,.1,.1,.1,0,.1,.1,.1,.2,.2],
[-1.1,-1.1,-1,-.9,-.6,-.6,-.6,-.7,-.8,-.9,-.9,-.9,-.9,-.8,-.5,-.2,-.1,0,.1,.1,.1,.1,0,0,0,0,0,0,.1,.1],
[-1.2,-1.2,-1.1,-1,-.7,-.8,-.8,-.8,-.9,-1,-1,-.9,-.6,-.4,-.2,-.1,0,0,0,0,.1,0,0,0,0,0,0,0,0,0],
[-1.2,-1.3,-1.2,-1.1,-.8,-1,-1,-1,-1.1,-1.1,-.8,-.4,-.2,-.1,0,0,0,0,0,0,0,0,0,0,0,0,0,0,0,0],
[-1.2,-1.3,-1.2,-1.1,-.9,-1.1,-1.1,-1.1,-1.1,-1.1,-.8,-.4,-.2,-.1,0,0,0,0,0,.1,.1,.1,.1,.1,.1,.1,.1,.1,.1,.1]
];
// scatter panel: points [vD, vref]
var bluePts = [[-1.9,-1.1],[-1.75,-.95],[-1.6,-.7],[-1.5,-.55],[-1.45,-.3],[-1.38,-.52],[-1.3,.55],[-1.33,.3],[-1.25,.1],[-1.2,.42],[-1.1,.87],[-1.05,.2],[-1,.5],[-.95,.05],[-.87,1],[-.85,.35],[-.8,.7],[-.75,.15],[-.7,.55],[-.65,.9],[-.6,1.1],[-.55,.5],[-.5,.85],[-.45,1.6],[-.42,1.2],[-.4,.65],[-.35,1],[-.3,.75],[-.28,.9],[-.25,.8],[-.2,1.4],[-.2,.85],[-.18,.75],[-.15,1.1],[-.1,.9],[-.1,1.25],[-.05,1.5],[0,1.3],[.05,1.1],[.1,1.45],[.15,1.7],[.2,1.2],[.25,1.35],[.3,1.55],[.35,1.25],[.4,1.75],[.45,1.4],[.5,1.95],[.55,2.35],[.55,1.7],[.6,1.95],[.62,2],[.65,1.55],[.7,1.85],[.75,2.2],[.8,2.4],[.8,1.75],[.85,2],[.9,1.65],[.95,1.65],[.95,2.1],[1,2.25],[1.05,2.45],[1.1,2.1],[1.2,2.6],[1.25,2.3],[1.3,2.5],[1.35,2.7],[1.45,2.5],[1.55,2.9],[1.6,2.6],[1.7,2.8],[1.8,3.05],[1.85,3.3],[1.95,3.35],[2.05,3.3],[2.15,3.25],[2.25,3.9],[2.3,3.45],[2.4,3.4],[2.45,3.7],[2.5,4],[2.6,3.9],[2.65,3.65],[2.7,4.06],[2.75,3.5],[2.8,4.1],[2.9,3.3],[2.95,3.3],[3.05,3.4],[3.1,3.45],[3.2,3.5],[3.25,3.55],[3.35,3.65],
[-2.75,-2.4],[-2.67,-2.33],[-2.6,-2.2],[-2.55,-2.5],[-2.1,-1.35],[-2,-1.45],[-1.95,-1.3],[-1.65,-.94],[-1.2,-1.5],[-.9,-1.85],[-.75,-1.7],[-.5,-1.45],[-.4,-1.45],[-.35,-1.7],[-.27,-1.87],[-.2,-1.3],[-.13,-2.53],[-.1,-2.2],[-.08,-2.6],[0,-2.28],[.02,-1.45],[.05,-1.7],[.1,-2.07],[.15,-1.85],[.2,-1],[.3,-.8],[.4,-.95],[.5,-.6],[.56,-.52],[.65,-.7],[.75,-.27],[.8,-.5],[.9,-.3],[1,-.85],[1.03,-.88],[1.1,-.6],[1.17,-.68],[1.2,-.16],[1.25,-.5],[1.3,-.45],[1.4,-.42],[1.1,.1],[1.3,.3],[1.4,.6],[1.5,.7],[1.6,.9],[1.58,1.23],[1.7,1],[1.85,.76],[1.8,1.2],[1.95,1.54],[2,1.3],[2.1,1.6],[2.2,1.7],[2.4,1.85],[2.5,2.1],[2.6,2.2],[2.75,2.36],[2.7,2.6],[2.85,2.8],
[-1.7,-.6],[-1.55,-.45],[-1.4,-.1],[-1.25,0],[-1.15,.25],[-1.05,.6],[-.9,.65],[-.8,.45],[-.7,.8],[-.6,.7],[-.5,1.05],[-.4,.9],[-.3,.95],[-.27,.85],[-.22,.78],[-.17,.95],[-.12,.82],[-.05,1.15],[.05,1.4],[.15,1.3],[.25,1.55],[.35,1.45],[.45,1.6],[.6,1.75],[.68,1.9],[.72,2],[.78,1.95],[.82,1.9],[.88,2.15],[.92,1.8],[.98,1.75],[1.02,1.7],[1.08,1.95],[1.15,2.3],[1.22,2.15],[1.3,2.3],[1.4,2.35],[1.5,2.7],[1.65,2.7],[1.75,2.65],[1.9,2.95],[2,3.1],[2.1,3.15],[2.2,3.1],[2.35,3.25],[2.5,3.3],[2.6,3.45],[2.7,3.3],[2.85,3.2],
[-2.5,-2.6],[-2.45,-2.4],[-1.5,-2],[-1.4,-1.9],[-1.1,-1.55],[-1,-1.7],[-.8,-1.45],[-.65,-1.2],[-.45,-1.25],[-.3,-1.1],[-.15,-1],[0,-.9],[.15,-.55],[.25,-.7],[.35,-.45],[.45,-.35],[.6,-.2],[.7,-.05],[.8,.05],[.9,0],[1,.2],[1.05,.35],[1.15,.5],[1.22,.45],[1.32,.75],[1.42,.85],[1.52,1.05],[1.62,1.1],[1.72,1.2],[1.82,1.15],[1.92,1.3],[2.05,1.45],[2.15,1.55],[2.3,1.9],[2.4,2],[2.55,2.15],[2.65,2.35]];
var orangePts = [[-3,-2.85],[-2.95,-2.9],[-2.9,-2.7],[-2.8,-2.55],[-2.7,-2.3],[-2.6,-2.1],[-2.58,-1.87],[-2.5,-2],[-2.45,-1.75],[-2.4,-1.6],[-2.3,-1.35],[-2.25,-1.5],[-2.2,-1.2],[-2.1,-.95],[-2,-.8],[-1.94,-.63],[-1.85,-.65],[-1.8,-.9],[-1.7,-.75],[-1.6,-.5],[-1.5,-.4],[-1.43,-.16],[-1.3,-.2],[-1.2,-.1],[-1.1,.1],[-.9,.3],[-.7,.5],[-.5,.7],[-.3,1.1],[-.18,1.54],[-.1,1.3],[.1,1.25],[.3,1.55],[.5,1.65],[.7,1.9],[.9,2.1],[1.1,2.2],[1.3,2.45],[1.5,2.6],[1.7,2.75],[1.9,3],[2.1,3.05],[2.3,3.15],[2.5,3.25],[2.55,3.2],[2.7,3.2],[2.8,3.34],[2.85,3.1],[3,2.95],
[-2.85,-3],[-2.75,-3.05],[-2.68,-3],[-2.5,-3.05],[-2.4,-3.15],[-2.26,-3.2],[-2.1,-3.25],[-2.03,-3.2],[-1.9,-3],[-1.8,-2.95],[-1.66,-2.95],[-1.5,-2.7],[-1.3,-2.55],[-1.15,-2.74],[-1.05,-2.6],[-.96,-2.74],[-.9,-2.3],[-.7,-2],[-.55,-1.9],[-.36,-1.76],[-.3,-1.4],[-.1,-1.15],[.1,-.9],[.38,-.89],[.45,-.6],[.56,-.73],[.7,-.5],[.85,-.63],[.95,-.25],[1,-.05],[1.1,.05],[1.2,.2],[1.3,.45],[1.45,.55],[1.55,.8],[1.67,.6],[1.75,.85],[1.85,.87],[1.9,1.1],[2.05,1.3],[2.2,1.5],[2.35,1.7],[2.46,1.7],[2.55,1.95],[2.7,2.2],[2.85,2.35],[3.05,2.5],[3.1,2.55],[3.25,2.55],[3.3,2.75],[3.2,2.7],[3,2.82],
[-2.55,-2.25],[-2.45,-2.1],[-2.35,-1.8],[-2.3,-2],[-2.2,-1.65],[-2.15,-1.45],[-2.05,-1.5],[-2,-1.2],[-1.95,-1.35],[-1.88,-1.05],[-1.8,-1.15],[-1.72,-1.1],[-1.65,-.8],[-1.58,-.95],[-1.5,-.7],[-1.45,-.85],[-1.38,-.45],[-1.3,-.6],[-1.22,-.4],[-1.15,-.5],[-1.08,-.15],[-1,-.05],[-.95,-.3],[-.85,.05],[-.78,.2],[-.7,.1],[-.62,.35],[-.55,.2],[-.48,.55],[-.4,.35],[-.33,.75],[-.25,.6],[-.18,.85],[-.1,.75],[-.02,1.1],[.05,.95],[.12,1.05],[.2,1.25],[.28,1.1],[.35,1.4],[.42,1.3],[.5,1.5],[.58,1.35],[.65,1.6],[.72,1.5],[.8,1.7],[.88,1.8],[.95,1.65],[1.02,2],[1.1,1.85],[1.18,2.05],[1.25,1.95],[1.32,2.25],[1.4,2.1],[1.48,2.35],[1.55,2.25],[1.62,2.45],[1.7,2.4],[1.78,2.65],[1.85,2.55],[1.95,2.8],[2.02,2.75],[2.1,2.95],[2.2,2.85],[2.28,3],[2.38,3.05],[2.45,2.95],[2.6,3.05],[2.7,3],
[-2.65,-2.75],[-2.55,-2.9],[-2.45,-2.75],[-2.35,-2.95],[-2.25,-2.85],[-2.15,-3],[-2.05,-2.8],[-1.95,-2.85],[-1.85,-2.65],[-1.75,-2.7],[-1.65,-2.4],[-1.55,-2.5],[-1.45,-2.3],[-1.35,-2.35],[-1.25,-2],[-1.15,-2.1],[-1.05,-1.8],[-.95,-1.95],[-.85,-1.55],[-.75,-1.6],[-.65,-1.3],[-.55,-1.4],[-.45,-1.15],[-.35,-1.05],[-.25,-.85],[-.15,-.9],[-.05,-.6],[.05,-.7],[.15,-.4],[.25,-.5],[.35,-.2],[.45,-.3],[.55,.05],[.65,-.1],[.75,.25],[.85,.15],[.95,.55],[1.05,.45],[1.15,.75],[1.25,.7],[1.35,1.05],[1.45,1],[1.55,1.2],[1.65,1.15],[1.75,1.45],[1.85,1.4],[1.95,1.7],[2.05,1.65],[2.15,1.95],[2.25,1.85],[2.35,2.2],[2.45,2.1],[2.55,2.35],[2.65,2.45],[2.75,2.6]];
// the saturated middle of the cloud, too dense to read single points: outline by vD
var coreX = [-2.5,-2,-1.5,-1,-.5,0,.5,1,1.5,2,2.5,2.75];
var coreTop = [-2.3,-1.5,-1,-.35,.25,.85,1.3,1.8,2.12,2.72,3,2.98];
var coreBottom = [-2.7,-2.55,-2.05,-1.45,-.9,-.3,.28,.92,1.45,1.98,2.48,2.78];

var heatTicks = [2, 3, 4];
var cbarTicks = [-4, -2, 0, 2, 4];
var scatterTicks = [-5, -2.5, 0, 2.5, 5];
var rdbu = ["#053061","#2166ac","#4393c3","#92c5de","#d1e5f0","#f7f7f7","#fddbc7","#f4a582","#d6604d","#b2182b","#67001f"];

var svg = d3.select("#chart");
var top_ = 151.5, bottom_ = 894, panelW = 736;

var color = d3.scaleLinear().domain(d3.range(11).map(function(i) { return -4 + i * 0.8; })).range(rdbu).clamp(true);

// text with math bits: each part is [string, style]
function label(parent, parts, o) {
  var g = parent.append("g").attr("transform", "translate(" + o.x + "," + o.y + ") rotate(" + (o.rotate || 0) + ")");
  var t = g.append("text").style("font-size", o.size + "px");
  var shift = 0;
  parts.forEach(function(p) {
    var st = p[1] || "", target = 0, ts = t.append("tspan").text(p[0]), size = o.size;
    if (st.indexOf("sub") >= 0) { target = o.size * 0.22; size = o.size * 0.72; }
    if (st.indexOf("sup") >= 0) { target = -o.size * 0.4; size = o.size * 0.72; }
    if (st.indexOf("b") == 0) ts.style("font-weight", "bold");
    if (st.indexOf("i") >= 0) ts.style("font-style", "italic");
    ts.style("font-size", size + "px");
    if (target != shift) ts.attr("dy", target - shift);
    shift = target;
  });
  var w = t.node().getComputedTextLength();
  t.attr("x", -w / 2);
  if (o.width) t.attr("transform", "scale(" + (o.width / w) + ",1)");
  return g;
}

function styleAxis(g) {
  g.select(".domain").remove();
  g.selectAll("line").attr("stroke", "#111").attr("stroke-width", 3);
  g.selectAll("text").style("font-size", "41px").attr("fill", "#111");
}

function heatPanel(left, vz, u, v, showY) {
  var right = left + panelW;
  var g = svg.append("g");

  var col = d3.scaleBand().domain(d3.range(30)).range([left, right]);
  var row = d3.scaleBand().domain(d3.range(30)).range([top_, bottom_]);
  var x = d3.scaleLinear().domain([2.52, 4.626]).range([left, right]);
  var y = d3.scaleLinear().domain([1.467, 3.571]).range([bottom_, top_]);

  vz.forEach(function(r, i) {
    g.selectAll(null).data(r).enter().append("rect")
      .attr("x", function(d, j) { return col(j); })
      .attr("y", row(i))
      .attr("width", col.bandwidth() + 0.5)
      .attr("height", row.bandwidth() + 0.5)
      .attr("fill", function(d) { return color(d); });
  });

  // quiver: one arrow per grid point, tail on the point
  var clipId = "clip" + Math.round(left);
  svg.append("clipPath").attr("id", clipId).append("rect")
    .attr("x", left).attr("y", top_).attr("width", panelW).attr("height", bottom_ - top_);
  var qx = d3.scalePoint().domain(d3.range(30)).range([left, right]);
  var qy = d3.scalePoint().domain(d3.range(30)).range([top_, bottom_]);
  var arrows = [];
  u.forEach(function(r, i) {
    r.forEach(function(d, j) { arrows.push({i: i, j: j, u: d, v: v[i][j]}); });
  });
  g.append("g").attr("clip-path", "url(#" + clipId + ")").append("g").attr("filter", "url(#soft)")
    .selectAll("path").data(arrows).enter().append("path")
    .attr("d", function(d) { return arrowPath(arrowLen(Math.sqrt(d.u * d.u + d.v * d.v))); })
    .attr("fill", "#050505").attr("stroke", "#050505").attr("stroke-width", 0.9).attr("stroke-linejoin", "round")
    .attr("transform", function(d) {
      return "translate(" + qx(d.j) + "," + qy(d.i) + ") rotate(" + (Math.atan2(-d.v, d.u) * 180 / Math.PI) + ")";
    });

  g.append("rect").attr("x", left).attr("y", top_).attr("width", panelW).attr("height", bottom_ - top_)
    .attr("fill", "none").attr("stroke", "#111").attr("stroke-width", 3);

  var xb = g.append("g").attr("transform", "translate(0," + bottom_ + ")")
    .call(d3.axisBottom(x).tickValues([3, 4]).tickFormat(d3.format("d")).tickSize(10).tickPadding(13));
  var xt = g.append("g").attr("transform", "translate(0," + top_ + ")")
    .call(d3.axisTop(x).tickValues([3, 4]).tickFormat("").tickSize(10));
  var yl = g.append("g").attr("transform", "translate(" + left + ",0)")
    .call(d3.axisLeft(y).tickValues([2, 3]).tickFormat(showY ? d3.format("d") : "").tickSize(10).tickPadding(15));
  styleAxis(xb); styleAxis(xt); styleAxis(yl);
  if (showY) {
    var yr = g.append("g").attr("transform", "translate(" + right + ",0)")
      .call(d3.axisRight(y).tickValues([2, 3]).tickFormat("").tickSize(10));
    styleAxis(yr);
  }
}

var arrowScale = d3.scaleLinear().domain([0, 4]).range([0, 27]);
function arrowLen(speed) { return arrowScale(speed); }
function arrowPath(L) {
  var f = Math.max(0.35, Math.min(1, L / 4));
  var hl = 9 * f, hw = 4.4 * f, sw = 0.9 * f;
  var end = Math.max(L, hl * 0.8);
  var p = d3.path();
  p.moveTo(0, -sw);
  p.lineTo(end - hl, -sw);
  p.lineTo(end - hl - 1 * f, -hw);
  p.lineTo(end, 0);
  p.lineTo(end - hl - 1 * f, hw);
  p.lineTo(end - hl, sw);
  p.lineTo(0, sw);
  p.closePath();
  return p.toString();
}

heatPanel(129, vzRef, uRef, vRef, true);
heatPanel(939.4, vzDeep, uDeep, vDeep, false);

// colorbar
var cbLeft = 1676, cbRight = 1714;
var cbY = d3.scaleLinear().domain([-4, 4]).range([bottom_, top_]);
var cb = svg.append("g");
cb.selectAll("rect").data(d3.range(-4, 4, 8 / 256)).enter().append("rect")
  .attr("x", cbLeft).attr("width", cbRight - cbLeft)
  .attr("y", function(d) { return cbY(d + 8 / 256); })
  .attr("height", (bottom_ - top_) / 256 + 0.6)
  .attr("fill", function(d) { return color(d); });
cb.append("rect").attr("x", cbLeft).attr("y", top_).attr("width", cbRight - cbLeft).attr("height", bottom_ - top_)
  .attr("fill", "none").attr("stroke", "#111").attr("stroke-width", 3);
var cbAxis = cb.append("g").attr("transform", "translate(" + cbRight + ",0)")
  .call(d3.axisRight(cbY).tickValues(cbarTicks).tickFormat(function(d) { return String(d); }).tickSize(10).tickPadding(13));
styleAxis(cbAxis);

// scatter panel
var sx = d3.scaleLinear().domain([-6, 6]).range([2200, 2936]);
var sy = d3.scaleLinear().domain([-6, 6]).range([894, 151.5]);
var sc = svg.append("g");
sc.selectAll(".gx").data(scatterTicks).enter().append("line").attr("class", "gx")
  .attr("x1", function(d) { return sx(d); }).attr("x2", function(d) { return sx(d); })
  .attr("y1", sy(-6)).attr("y2", sy(6)).attr("stroke", "#c8c8c8").attr("stroke-width", 1.8);
sc.selectAll(".gy").data(scatterTicks).enter().append("line").attr("class", "gy")
  .attr("y1", function(d) { return sy(d); }).attr("y2", function(d) { return sy(d); })
  .attr("x1", sx(-6)).attr("x2", sx(6)).attr("stroke", "#d8d8d8").attr("stroke-width", 1.8);

var core = d3.area().curve(d3.curveMonotoneX)
  .x(function(d, i) { return sx(coreX[i]); })
  .y0(function(d, i) { return sy(coreBottom[i]); })
  .y1(function(d, i) { return sy(coreTop[i]); });
sc.append("g").selectAll("circle").data(bluePts).enter().append("circle")
  .attr("cx", function(d) { return sx(d[0]); }).attr("cy", function(d) { return sy(d[1]); })
  .attr("r", 3).attr("fill", "#1f77b4").attr("fill-opacity", 0.5);
sc.append("g").selectAll("circle").data(orangePts).enter().append("circle")
  .attr("cx", function(d) { return sx(d[0]); }).attr("cy", function(d) { return sy(d[1]); })
  .attr("r", 3).attr("fill", "#ff7f0e").attr("fill-opacity", 0.55);
sc.append("path").datum(coreX).attr("d", core).attr("fill", "#ff8415").attr("filter", "url(#softCore)");

sc.append("line").attr("x1", sx(-6)).attr("y1", sy(-6)).attr("x2", sx(6)).attr("y2", sy(6))
  .attr("stroke", "#111").attr("stroke-width", 1.8);

sc.append("line").attr("x1", 2200).attr("x2", 2892).attr("y1", top_).attr("y2", top_).attr("stroke", "#111").attr("stroke-width", 3);
sc.append("line").attr("x1", 2200).attr("x2", 2892).attr("y1", bottom_).attr("y2", bottom_).attr("stroke", "#111").attr("stroke-width", 3);
sc.append("line").attr("x1", 2200).attr("x2", 2200).attr("y1", top_).attr("y2", bottom_).attr("stroke", "#111").attr("stroke-width", 3);

var fmt = function(d) { return d3.format(".1f")(d); };
var sxa = sc.append("g").attr("transform", "translate(0," + bottom_ + ")")
  .call(d3.axisBottom(sx).tickValues(scatterTicks).tickFormat(fmt).tickSize(10).tickPadding(18));
var sya = sc.append("g").attr("transform", "translate(2200,0)")
  .call(d3.axisLeft(sy).tickValues(scatterTicks).tickFormat(fmt).tickSize(10).tickPadding(18));
styleAxis(sxa); styleAxis(sya);

// legend
var lg = svg.append("g");
lg.append("rect").attr("x", 2214).attr("y", 167).attr("width", 342).attr("height", 121)
  .attr("fill", "#fff").attr("fill-opacity", 0.8).attr("stroke", "#ccc").attr("stroke-width", 4);
lg.append("line").attr("x1", 2225).attr("x2", 2286).attr("y1", 189).attr("y2", 189).attr("stroke", "#111").attr("stroke-width", 1.8);
lg.append("circle").attr("cx", 2256).attr("cy", 227).attr("r", 2.7).attr("fill", "#1f77b4").attr("fill-opacity", 0.4);
lg.append("circle").attr("cx", 2256).attr("cy", 262).attr("r", 2.7).attr("fill", "#ff7f0e").attr("fill-opacity", 0.4);
label(lg, [["Reference (1:1)"]], {x: 2418, y: 203, size: 30, width: 220});
label(lg, [["v", "i"], ["D, ", "sub"], ["x", "subi"], ["  (R"], ["2", "sup"], ["=0.84)"]], {x: 2429, y: 236, size: 30, width: 242});
label(lg, [["v", "i"], ["D, ", "sub"], ["y", "subi"], ["  (R"], ["2", "sup"], ["=0.92)"]], {x: 2429, y: 271, size: 30, width: 242});

// titles
var vBold = ["v", "b"], tauPart = ["τ", "i"];
label(svg, [["(a) MURaM flow field "], vBold, ["ref, ", "sub"], ["t", "subi"], ["("], tauPart, [" ≈ 1)"]], {x: 492, y: 68, size: 42, width: 646});
label(svg, [["t=0 s"]], {x: 497, y: 120, size: 42, width: 99});
label(svg, [["(b) DeepVel "], vBold, ["D, ", "sub"], ["t", "subi"], ["("], tauPart, [" ≈ 1):"]], {x: 1304, y: 62, size: 42, width: 460});
label(svg, [["C=0.94, A=0.91, Eabs=0.49 km s"], ["−1", "sup"]], {x: 1305, y: 120, size: 42, width: 660});
label(svg, [["(c) "], vBold, ["D, ", "sub"], ["t", "subi"], [" vs. "], vBold, ["ref, ", "sub"], ["t", "subi"], [" at "], tauPart, [" ≈ 1"]], {x: 2563, y: 69, size: 42, width: 494});
label(svg, [["t=0 s"]], {x: 2567, y: 121, size: 42, width: 99});

// axis labels
label(svg, [["x (Mm)"]], {x: 498, y: 1002, size: 42, width: 138});
label(svg, [["x (Mm)"]], {x: 1305, y: 1002, size: 42, width: 138});
label(svg, [["y (Mm)"]], {x: 56, y: 526, size: 42, width: 148, rotate: -90});
label(svg, [["v", "i"], ["ref, ", "sub"], ["z", "subi"], [" (km s"], ["−1", "sup"], [")"]], {x: 1824, y: 521, size: 40, width: 273, rotate: 90});
label(svg, [["v", "i"], ["ref, ", "sub"], ["x", "subi"], [", "], ["v", "i"], ["ref, ", "sub"], ["y", "subi"], [" (km s"], ["−1", "sup"], [")"]], {x: 2057, y: 526, size: 42, width: 402, rotate: -90});
label(svg, [["v", "i"], ["D, ", "sub"], ["x", "subi"], [", "], ["v", "i"], ["D, ", "sub"], ["y", "subi"], [" (km s"], ["−1", "sup"], [")"]], {x: 2563, y: 1006, size: 42, width: 364});

// quiver key
svg.append("path").attr("d", arrowPath(arrowScale(4))).attr("fill", "#0a0a0a")
  .attr("transform", "translate(1645,995)");
label(svg, [["4.0 km s"], ["−1", "sup"]], {x: 1784, y: 1003, size: 42, width: 195});
</script>
</body>
</html>
